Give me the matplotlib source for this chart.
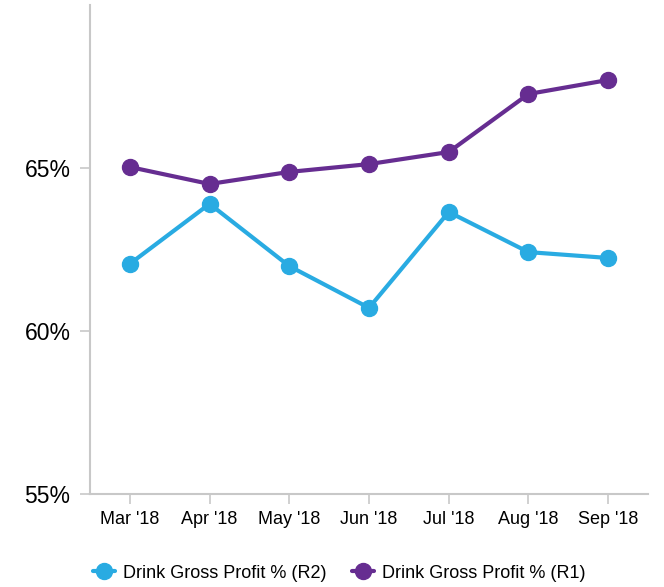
import matplotlib
matplotlib.use("Agg")
import matplotlib.pyplot as plt
from matplotlib.ticker import FuncFormatter

months = ["Mar '18", "Apr '18", "May '18", "Jun '18", "Jul '18", "Aug '18", "Sep '18"]
r2_values = [62.06, 63.90, 61.99, 60.71, 63.65, 62.42, 62.24]
r1_values = [65.03, 64.51, 64.88, 65.12, 65.49, 67.27, 67.70]
y_ticks = [55, 60, 65]

plt.rcParams['font.family'] = ['Liberation Sans', 'DejaVu Sans']

fig = plt.figure(figsize=(6.64, 5.87), dpi=100)
ax = fig.add_axes([0.1355, 0.1584, 0.976 - 0.1355, 0.9915 - 0.1584])

blue = '#29abe2'
purple = '#662d91'
x = list(range(len(months)))
ax.plot(x, r2_values, color=blue, lw=3, marker='o', ms=11.5, label='Drink Gross Profit % (R2)', solid_capstyle='round')
ax.plot(x, r1_values, color=purple, lw=3, marker='o', ms=11.5, label='Drink Gross Profit % (R1)', solid_capstyle='round')

ax.set_xlim(-0.5, 6.5)
ax.set_ylim(55, 70)
ax.set_xticks(x)
ax.set_xticklabels(months, fontsize=13)
ax.set_yticks(y_ticks)
ax.yaxis.set_major_formatter(FuncFormatter(lambda v, p: f"{v:.0f}%"))
ax.tick_params(axis='y', labelsize=16.5, length=7, width=1.2, color='#c8c8c8', pad=7)
ax.tick_params(axis='x', length=7, width=1.2, color='#c8c8c8', pad=5)
for s in ['top', 'right']:
    ax.spines[s].set_visible(False)
for s in ['left', 'bottom']:
    ax.spines[s].set_color('#c8c8c8')
    ax.spines[s].set_linewidth(1.5)

fig.legend(loc='center left', bbox_to_anchor=(93 / 664, 1 - 573 / 587), ncol=2, frameon=False,
           fontsize=13, handlelength=1.2, handletextpad=0.45, columnspacing=1.45,
           borderpad=0, borderaxespad=0)

fig.savefig('out.png', dpi=100)
